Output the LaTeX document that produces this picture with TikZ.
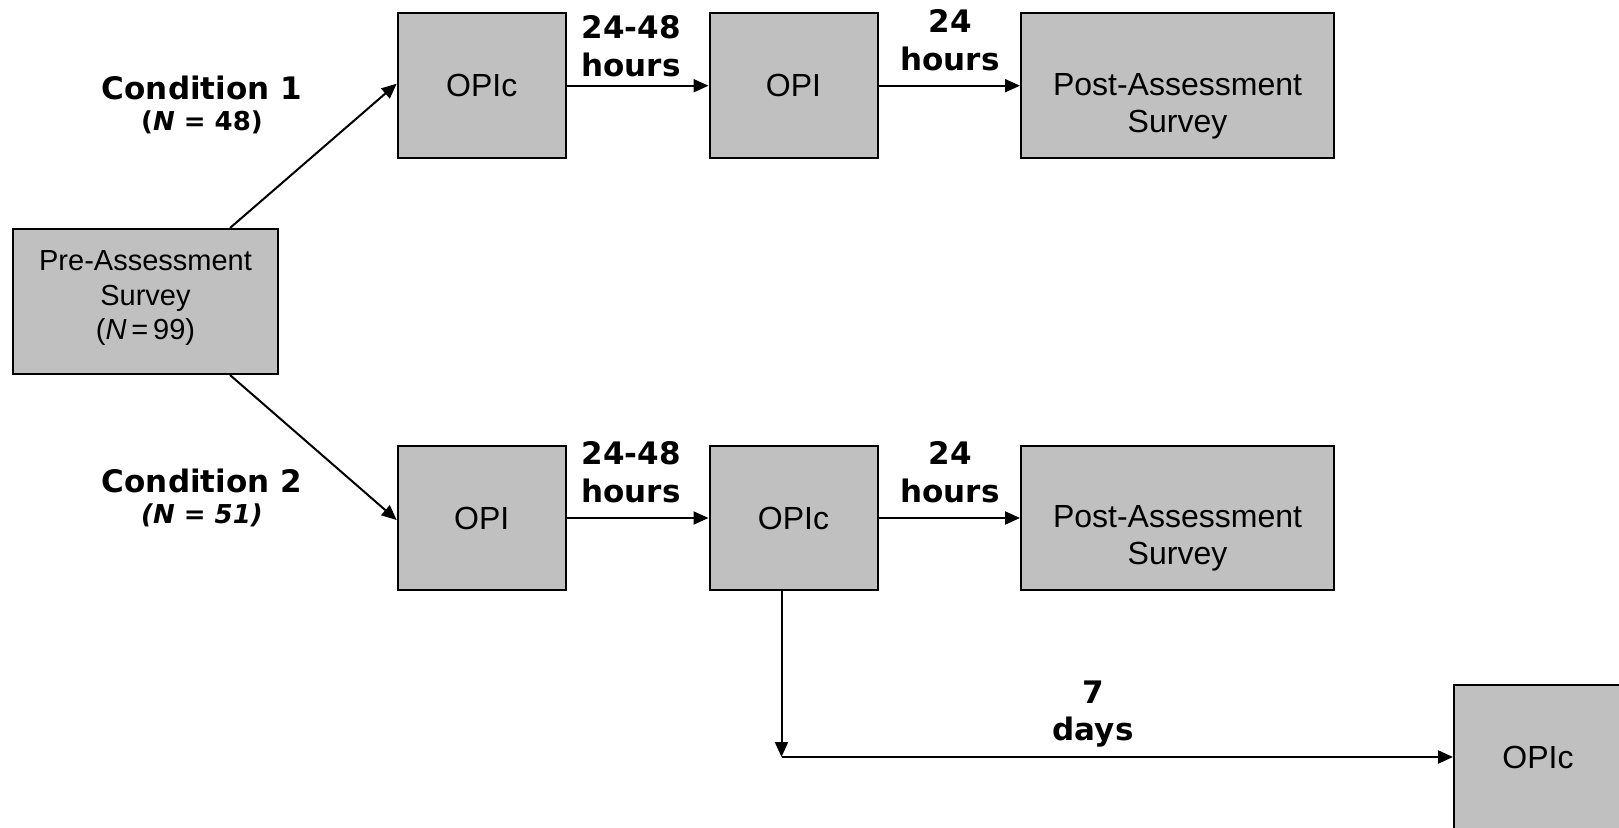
\documentclass[tikz,border=0pt]{standalone}
\usepackage{fontspec}
\setmainfont{Liberation Sans}
\newfontfamily\labfont{DejaVu Sans}
\usetikzlibrary{arrows.meta}
\begin{document}
\begin{tikzpicture}[x=1pt,y=-1pt,
  stagebox/.style={draw=black, line width=2pt, fill=boxgray, rectangle, inner sep=0pt,
    minimum height=144.5pt, align=center, font=\fontsize{32}{37}\selectfont},
  boxtext/.style={inner sep=0pt, align=center, font=\fontsize{32}{37}\selectfont},
  timelabel/.style={align=center, inner sep=0pt, font=\labfont\bfseries\fontsize{31}{37.5}\selectfont},
  condlabel/.style={inner sep=0pt, font=\labfont\bfseries\fontsize{31}{34}\selectfont},
  nlabel/.style={inner sep=0pt, font=\labfont\bfseries\fontsize{26}{30}\selectfont},
  arr/.style={line width=2pt, -{Triangle[length=15pt,width=13pt]}}]
\definecolor{boxgray}{HTML}{C0C0C0}
\useasboundingbox (0,0) rectangle (1619,827);
\clip (0,0) rectangle (1619,827);

% stages
\node[stagebox, minimum width=265pt, minimum height=145pt] (pre) at (145.5,301.5) {};
\node[boxtext, font=\fontsize{29}{34.5}\selectfont] (pretext) at ([yshift=3pt]pre.center)
  {Pre-Assessment\\Survey\\(\textit{N}\,=\,99)};
\node[stagebox, minimum width=168pt] (c1a) at (481.7,85.7) {OPIc};
\node[stagebox, minimum width=168pt] (c1b) at (793.5,85.7) {OPI};
\node[stagebox, minimum width=313pt] (c1c) at (1177.5,85.7) {};
\node[boxtext] (c1ctext) at ([yshift=-20.5pt]c1c.center) {Post-Assessment\\Survey};
\node[stagebox, minimum width=168pt] (c2a) at (481.7,518) {OPI};
\node[stagebox, minimum width=168pt] (c2b) at (793.5,518) {OPIc};
\node[stagebox, minimum width=313pt] (c2c) at (1177.5,518) {};
\node[boxtext] (c2ctext) at ([yshift=-20.5pt]c2c.center) {Post-Assessment\\Survey};
\node[stagebox, minimum width=168pt] (late) at (1538,757) {OPIc};

% group labels
\node[condlabel] (cond1) at (202,88) {Condition 1};
\node[nlabel] (n1) at (202,122) {(\textit{N} = 48)};
\node[condlabel] (cond2) at (202,481) {Condition 2};
\node[nlabel, font=\labfont\bfseries\itshape\fontsize{26}{30}\selectfont] (n2) at (202,515) {(N = 51)};

% interval labels
\node[timelabel] (t1) at (631,46) {24-48\\hours};
\node[timelabel] (t2) at (950,40) {24\\hours};
\node[timelabel] (t3) at (631,472) {24-48\\hours};
\node[timelabel] (t4) at (950,472) {24\\hours};
\node[timelabel] (t5) at (1093,714) {7\\days};

% connectors
\draw[arr] ([xshift=-49pt]pre.north east) -- ([yshift=2pt]c1a.west);
\draw[arr] ([xshift=-49pt]pre.south east) -- ([yshift=-2pt]c2a.west);
\draw[arr] (c1a) -- (c1b);
\draw[arr] (c1b) -- (c1c);
\draw[arr] (c2a) -- (c2b);
\draw[arr] (c2b) -- (c2c);
\coordinate (bend) at ([xshift=-12pt]c2b.south |- late.west);
\draw[arr] ([xshift=-12pt]c2b.south) -- (bend);
\draw[arr] (bend) -- (late.west);
\end{tikzpicture}
\end{document}
